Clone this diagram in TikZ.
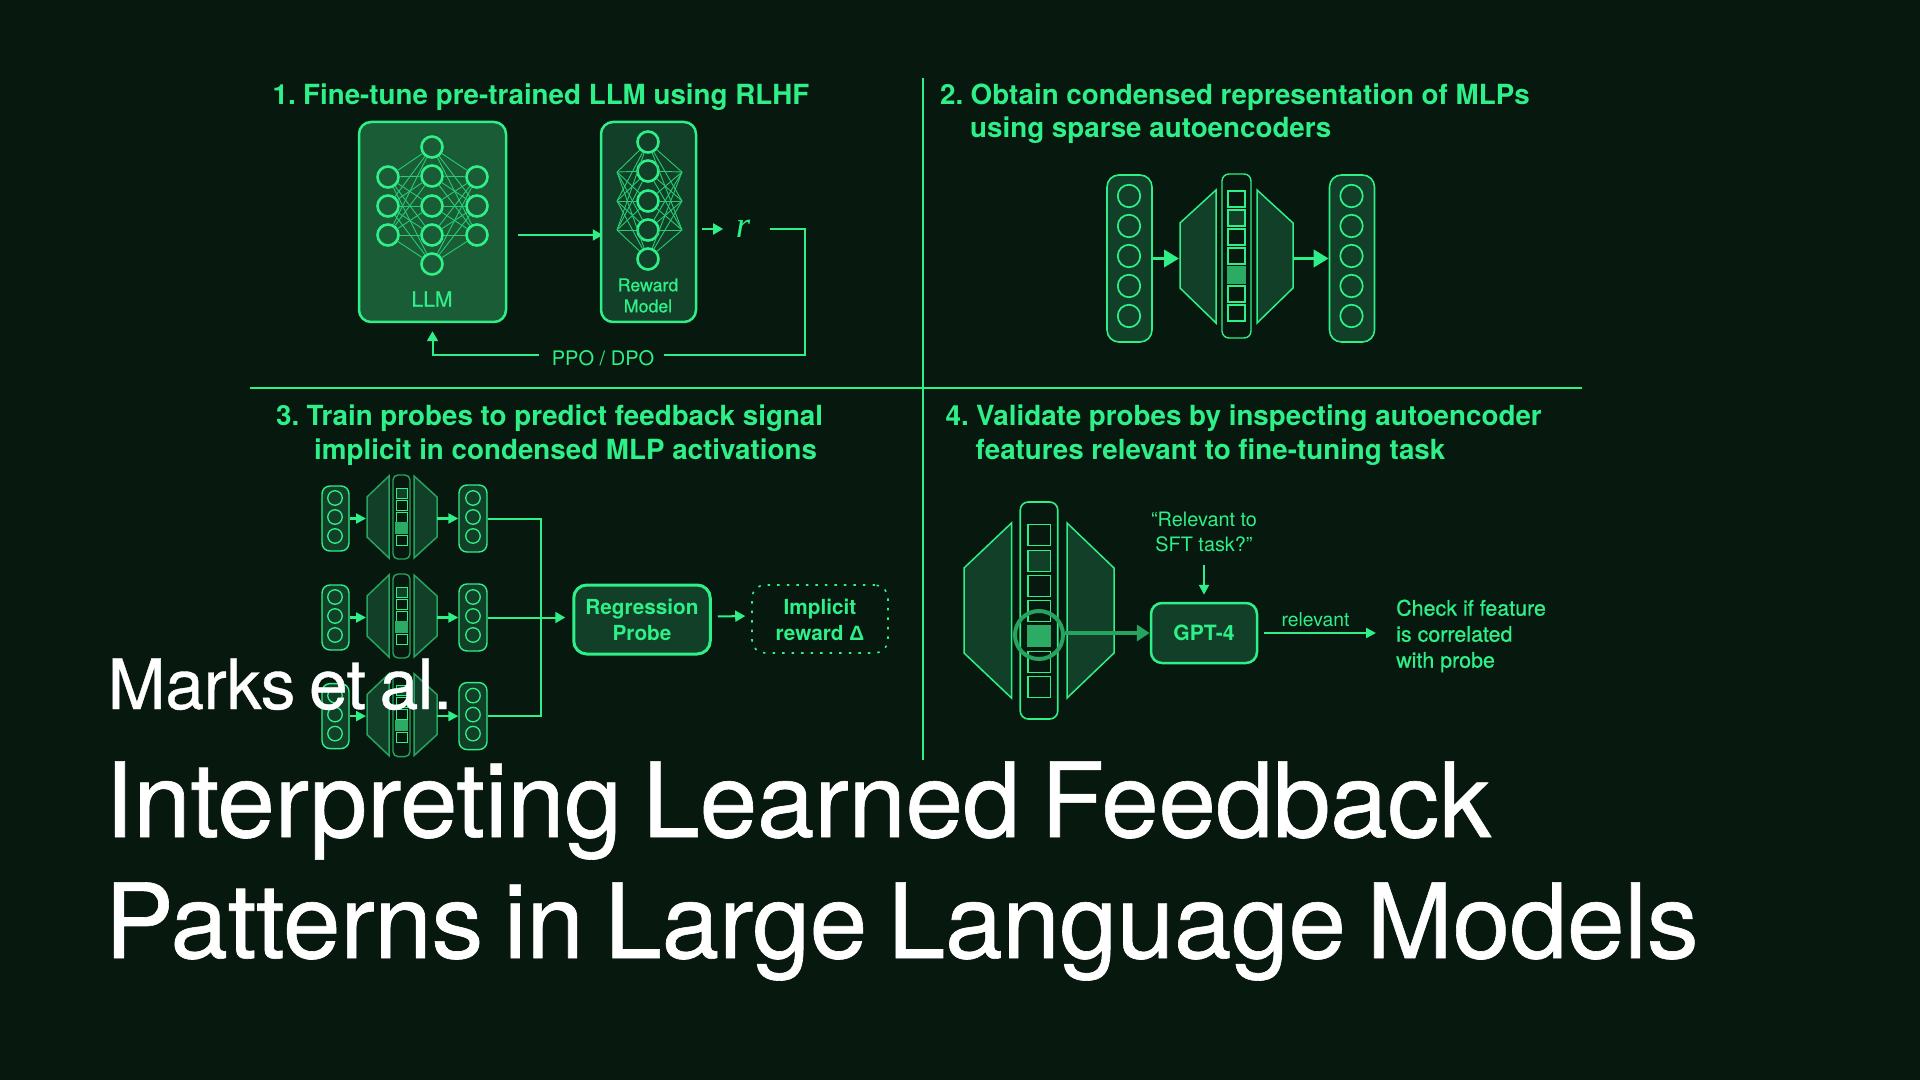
\documentclass[tikz,border=0pt]{standalone}
\usepackage{fontspec}
\setmainfont{TeX Gyre Heros}
\newfontfamily\medfont[FakeBold=0.7]{TeX Gyre Heros}
\newfontfamily\titlefont[FakeBold=0.6, LetterSpace=-0.4, WordSpace=0.72]{TeX Gyre Heros}
\newfontfamily\authorfont[FakeBold=0.6, LetterSpace=-0.6, WordSpace=0.72]{TeX Gyre Heros}
\newfontfamily\symbolfont{Liberation Serif}
\newfontfamily\deltafont{Liberation Sans}
\usetikzlibrary{positioning, arrows.meta}
\definecolor{bgdark}{HTML}{07180F}
\definecolor{grn}{HTML}{2EEF88}
\definecolor{dimgrn}{HTML}{25A35F}
\definecolor{fillmid}{HTML}{1A5C36}
\definecolor{filldark}{HTML}{123F27}
\definecolor{cellon}{HTML}{2BAB63}
\tikzset{
  modelbox/.style = {rectangle, draw=grn, line width=0.025cm, rounded corners=0.12cm, inner sep=0pt},
  neuron/.style   = {circle, draw=grn, line width=0.026cm, minimum size=0.21cm, inner sep=0pt},
  unit/.style     = {circle, draw=grn, line width=0.017cm, minimum size=0.225cm, inner sep=0pt},
  tinyunit/.style = {circle, draw=grn, line width=0.013cm, minimum size=0.145cm, inner sep=0pt},
  cell/.style     = {rectangle, draw=grn, line width=0.015cm, inner sep=0pt},
  link/.style     = {draw=grn!85!black, line width=0.009cm},
  wing/.style     = {draw=grn, fill=filldark, line width=0.015cm},
  wire/.style     = {draw=grn, line width=0.02cm},
  arr/.style      = {wire, -{Triangle[length=0.1cm, width=0.11cm]}},
  smallarr/.style = {draw=grn, line width=0.022cm, -{Triangle[length=0.1cm, width=0.1cm]}},
  fatarr/.style   = {draw=grn, line width=0.035cm, -{Triangle[length=0.15cm, width=0.17cm]}},
  head/.style     = {anchor=base west, text=grn, inner sep=0pt, font=\fontsize{7.9}{9}\selectfont\bfseries},
  label/.style    = {text=grn, inner sep=0pt, align=center, font=\fontsize{5.7}{7.1}\selectfont},
  strong/.style   = {text=grn, inner sep=0pt, align=center, font=\fontsize{5.9}{7.4}\selectfont\bfseries},
  title/.style    = {anchor=base west, text=white, inner sep=0pt, font=\fontsize{29.5}{30}\selectfont\titlefont}
}
\begin{document}
\begin{tikzpicture}[x=1cm, y=-1cm]
  \useasboundingbox (0,0) rectangle (19.2,10.8);
  \fill[bgdark] (0,0) rectangle (19.2,10.8);
  \coordinate (vtop) at (9.23,0.78);
  \coordinate (vbot) at (9.23,7.6);
  \coordinate (hleft) at (2.5,3.88);
  \coordinate (hright) at (15.82,3.88);
  \draw[wire] (vtop) -- (vbot);
  \draw[wire] (hleft) -- (hright);

  \node[head] (head1) at (2.72,1.05) {1.\kern-0.03cm{} Fine-tune pre-trained LLM using RLHF};
  \node[modelbox, fill=fillmid, minimum width=1.47cm, minimum height=2cm] (llm) at (4.325,2.22) {};
  \node[modelbox, fill=filldark, minimum width=0.95cm, minimum height=2cm] (reward) at (6.485,2.22) {};
  \foreach \i/\y in {1/1.77,2/2.06,3/2.35} {
    \node[neuron] (llmin\i) at (3.88,\y) {};
    \node[neuron] (llmout\i) at (4.77,\y) {};
  }
  \foreach \j/\y in {1/1.47,2/1.76,3/2.06,4/2.35,5/2.64}
    \node[neuron] (llmmid\j) at (4.32,\y) {};
  \foreach \i in {1,2,3}
    \foreach \j in {1,...,5} {
      \draw[link] (llmin\i) -- (llmmid\j);
      \draw[link] (llmmid\j) -- (llmout\i);
    }
  \foreach \j/\y in {1/1.42,2/1.71,3/2.01,4/2.30,5/2.59}
    \node[neuron] (rewmid\j) at (6.48,\y) {};
  \foreach \i/\y in {1/1.72,2/2.01,3/2.30} {
    \coordinate (rewin\i) at (6.17,\y);
    \coordinate (rewout\i) at (6.82,\y);
  }
  \foreach \i in {1,2,3}
    \foreach \j in {1,...,5} {
      \draw[link] (rewin\i) -- (rewmid\j);
      \draw[link] (rewmid\j) -- (rewout\i);
    }
  \node[label, font=\fontsize{6}{7}\selectfont\medfont] (llmname) at (4.32,2.99) {LLM};
  \node[label, font=\fontsize{5.05}{6}\selectfont\medfont] (rewname) at (6.48,2.955) {Reward\\Model};
  \node[text=grn, inner sep=0pt, font=\fontsize{10.5}{10.5}\selectfont\symbolfont\itshape] (rsym) at (7.43,2.29) {r};
  \node[label] (ppo) at (6.03,3.58) {PPO / DPO};
  \coordinate (rcorner) at (8.05,3.55);
  \draw[arr, shorten <=0.11cm, shorten >=-0.03cm] ([yshift=-0.13cm]llm.east) -- ([yshift=-0.13cm]reward.west);
  \draw[arr] ([xshift=0.05cm]reward.east |- rsym) -- ([xshift=-0.12cm]rsym.west);
  \draw[wire] ([xshift=0.19cm]rsym.east) -| (rcorner) -- ([xshift=0.09cm, yshift=0.03cm]ppo.east);
  \draw[arr, shorten >=0.08cm] ([xshift=-0.12cm, yshift=0.03cm]ppo.west) -| (llm.south);

  \node[head] (head2) at (9.395,1.05) {2.\kern-0.03cm{} Obtain condensed representation of MLPs};
  \node[head] (head2b) at (9.695,1.38) {using sparse autoencoders};
  \node[modelbox, fill=filldark, line width=0.016cm, minimum width=0.45cm, minimum height=1.67cm] (stackin) at (11.295,2.585) {};
  \node[modelbox, fill=filldark, line width=0.016cm, minimum width=0.45cm, minimum height=1.67cm] (stackout) at (13.52,2.585) {};
  \foreach \j/\y in {1/1.96,2/2.26,3/2.56,4/2.86,5/3.16} {
    \node[unit] (unitin\j) at (11.29,\y) {};
    \node[unit] (unitout\j) at (13.515,\y) {};
  }
  \draw[wing] (11.8,2.23) -- (12.16,1.9) -- (12.16,3.23) -- (11.8,2.88) -- cycle;
  \draw[wing] (12.57,1.9) -- (12.93,2.23) -- (12.93,2.88) -- (12.57,3.23) -- cycle;
  \node[modelbox, line width=0.014cm, rounded corners=0.07cm, minimum width=0.29cm, minimum height=1.64cm] (code) at (12.365,2.56) {};
  \foreach \j/\y in {1/1.99,2/2.18,3/2.37,4/2.56,5/2.75,6/2.94,7/3.13}
    \node[cell, minimum width=0.17cm, minimum height=0.16cm] (codecell\j) at (12.365,\y) {};
  \node[cell, fill=filldark, minimum width=0.17cm, minimum height=0.16cm] (codedim) at (12.365,2.18) {};
  \node[cell, fill=cellon, draw=cellon, minimum width=0.17cm, minimum height=0.16cm] (codeon) at (12.365,2.75) {};
  \coordinate (wingin) at (11.79,2.585);
  \draw[fatarr] (stackin.east) -- (wingin);
  \draw[fatarr] (12.93,2.585) -- (stackout.west);

  \node[head] (head3) at (2.755,4.26) {3.\kern-0.03cm{} Train probes to predict feedback signal};
  \node[head] (head3b) at (3.135,4.59) {implicit in condensed MLP activations};
  \foreach \r/\d in {1/0,2/0.99,3/1.976} {
    \begin{scope}[shift={(0,\d)}]
      \node[modelbox, fill=filldark, line width=0.014cm, rounded corners=0.08cm, minimum width=0.27cm, minimum height=0.65cm] (smallin\r) at (3.355,5.185) {};
      \node[modelbox, fill=filldark, line width=0.014cm, rounded corners=0.08cm, minimum width=0.28cm, minimum height=0.67cm] (smallout\r) at (4.73,5.185) {};
      \foreach \j/\y in {1/4.98,2/5.17,3/5.36} {
        \node[tinyunit] (smin\r\j) at (3.35,\y) {};
        \node[tinyunit] (smout\r\j) at (4.73,\y) {};
      }
      \draw[wing, draw=dimgrn] (3.67,4.97) -- (3.89,4.76) -- (3.89,5.58) -- (3.67,5.37) -- cycle;
      \draw[wing, draw=dimgrn] (4.14,4.76) -- (4.37,4.97) -- (4.37,5.37) -- (4.14,5.58) -- cycle;
      \node[modelbox, draw=dimgrn, line width=0.014cm, rounded corners=0.05cm, minimum width=0.17cm, minimum height=0.84cm] (smallcode\r) at (4.015,5.17) {};
      \foreach \j/\y in {1/4.93,2/5.05,3/5.17,5/5.40}
        \node[cell, line width=0.01cm, minimum width=0.11cm, minimum height=0.10cm] (smallcell\r\j) at (4.015,\y) {};
      \node[cell, fill=filldark, line width=0.01cm, minimum width=0.11cm, minimum height=0.10cm] (smalldim\r) at (4.015,4.93) {};
      \node[cell, fill=cellon, draw=cellon, minimum width=0.11cm, minimum height=0.10cm] (smallon\r) at (4.015,5.28) {};
      \draw[smallarr] (smallin\r.east) -- (3.66,5.185);
      \draw[smallarr] (4.37,5.185) -- (smallout\r.west);
    \end{scope}
  }
  \node[modelbox, fill=filldark, line width=0.03cm, minimum width=1.365cm, minimum height=0.69cm, rounded corners=0.13cm] (probe) at (6.42,6.195) {};
  \node[strong] (probename) at (6.42,6.2) {Regression\\Probe};
  \node[modelbox, dotted, rounded corners=0.13cm, line width=0.016cm, minimum width=1.36cm, minimum height=0.68cm] (implicit) at (8.2,6.19) {};
  \node[strong] (implicitname) at (8.2,6.2) {Implicit\\reward {\deltafont\bfseries Δ}};
  \coordinate (bus) at (5.41,6.2);
  \draw[wire] (smallout1.east) -| (bus) |- (smallout3.east);
  \draw[arr, shorten >=0.07cm] (smallout2.east) -- (smallout2.east -| probe.west);
  \draw[arr, shorten <=0.06cm, shorten >=0.06cm] ([yshift=0.03cm]probe.east) -- ([yshift=0.03cm]implicit.west);

  \node[head] (head4) at (9.45,4.26) {4.\kern-0.03cm{} Validate probes by inspecting autoencoder};
  \node[head] (head4b) at (9.75,4.59) {features relevant to fine-tuning task};
  \draw[wing] (9.64,5.68) -- (10.115,5.23) -- (10.115,6.98) -- (9.64,6.53) -- cycle;
  \draw[wing] (10.67,5.23) -- (11.14,5.68) -- (11.14,6.53) -- (10.67,6.98) -- cycle;
  \node[modelbox, line width=0.016cm, rounded corners=0.08cm, minimum width=0.375cm, minimum height=2.17cm] (bigcode) at (10.39,6.105) {};
  \foreach \j/\y in {1/5.35,2/5.61,3/5.86,4/6.11,6/6.62,7/6.87}
    \node[cell, minimum width=0.225cm, minimum height=0.21cm] (bigcell\j) at (10.39,\y) {};
  \node[cell, fill=filldark, minimum width=0.225cm, minimum height=0.21cm] (bigdim) at (10.39,5.61) {};
  \node[cell, fill=cellon, draw=cellon, minimum width=0.225cm, minimum height=0.21cm] (bigon) at (10.39,6.36) {};
  \node[circle, draw=dimgrn, line width=0.04cm, minimum size=0.48cm, inner sep=0pt] (ring) at (10.39,6.35) {};
  \node[modelbox, fill=filldark, minimum width=1.06cm, minimum height=0.6cm, rounded corners=0.11cm] (gpt) at (12.04,6.33) {};
  \node[strong, font=\fontsize{6}{7}\selectfont\bfseries] (gptname) at (12.04,6.33) {GPT-4};
  \node[label, font=\fontsize{5.65}{7.1}\selectfont] (question) at (12.04,5.32) {``Relevant to\\SFT task?''};
  \node[label, font=\fontsize{5.5}{7}\selectfont] (relname) at (13.155,6.2) {relevant};
  \node[label, anchor=west, align=left, font=\fontsize{6.1}{7.4}\selectfont\medfont] (check) at (13.955,6.36) {Check if feature\\is correlated\\with probe};
  \draw[draw=dimgrn, line width=0.04cm, -{Triangle[length=0.13cm, width=0.16cm]}] (ring.east |- gpt) -- (gpt.west);
  \coordinate (asktop) at (12.04,5.65);
  \draw[smallarr, shorten >=0.07cm] (asktop) -- (gpt.north);
  \coordinate (relend) at (13.76,6.33);
  \draw[smallarr, shorten <=0.06cm] (gpt.east) -- (relend);

  \node[title, font=\fontsize{19.8}{20}\selectfont\authorfont] (author) at (1.07,7.09) {Marks et al.};
  \node[title] (titlea) at (1.04,8.37) {Interpreting Learned Feedback};
  \node[title] (titleb) at (1.04,9.58) {Patterns in Large Language Models};
\end{tikzpicture}
\end{document}
